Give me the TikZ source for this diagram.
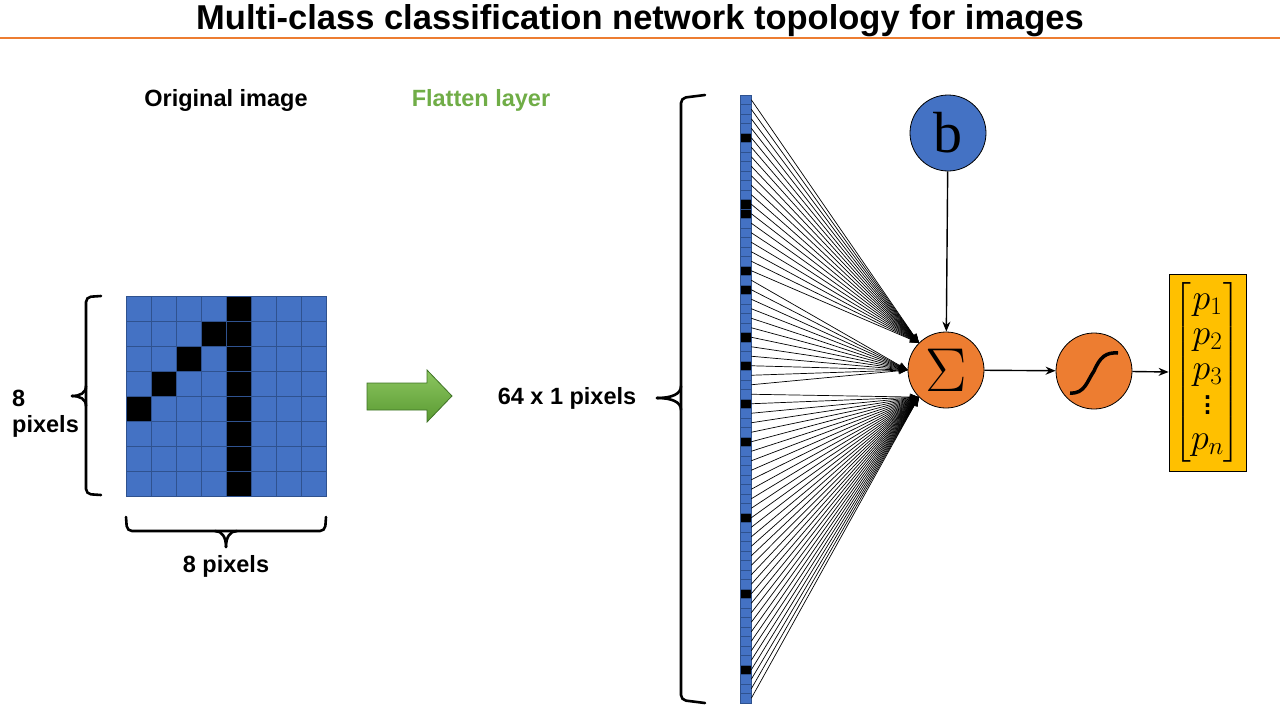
\RequirePackage{fix-cm}
\documentclass[tikz,border=0pt]{standalone}
\usepackage{amsmath}
\usepackage{fontspec}
\setmainfont{Liberation Sans}
\newfontfamily\biasfont{Liberation Serif}
\usetikzlibrary{arrows.meta}
\definecolor{pixblue}{HTML}{4472C4}
\definecolor{pixedge}{HTML}{2F528F}
\definecolor{accorange}{HTML}{ED7D31}
\definecolor{outyellow}{HTML}{FFC000}
\definecolor{flatgreen}{HTML}{70AD47}
\definecolor{arrowtop}{HTML}{8CC660}
\definecolor{arrowbot}{HTML}{5A9A32}
\definecolor{arrowedge}{HTML}{3F7326}
\newcommand\tallvdots{\vcenter{\baselineskip=7.5pt\lineskiplimit=0pt\hbox{.}\hbox{.}\hbox{.}}}

\begin{document}
\begin{tikzpicture}[x=1pt, y=-1pt,
        pix/.style={draw=pixedge, fill=pixblue, line width=0.8pt, inner sep=0pt, minimum size=25pt},
        colpix/.style={draw=pixedge, fill=pixblue, line width=0.6pt, inner sep=0pt, minimum width=11pt, minimum height=9.5pt},
        lbl/.style={font=\fontsize{23.5}{28}\selectfont\bfseries},
        neuron/.style={circle, draw=black, line width=0.8pt, minimum size=76pt, inner sep=0pt},
        fan/.style={line width=0.7pt, -{Stealth[length=9pt,width=7pt]}},
        link/.style={line width=1.4pt, -{Stealth[length=10pt,width=8pt]}},
        bracket/.style={line width=2.6pt, line cap=round, rounded corners=5pt}]
        \useasboundingbox (0,0) rectangle (1280,720);
        % Title
        \node [font=\fontsize{34.5}{40}\selectfont\bfseries] (title) at (640,21) {Multi-class classification network topology for images};
        \draw [accorange, line width=2pt] (0,38) -- (1280,38);
        % Labels
        \node [lbl] (origlbl) at (226,100) {Original image};
        \node [lbl, text=flatgreen] (flatlbl) at (481,100) {Flatten layer};
        \node [lbl] (colsize) at (567,398) {64 x 1 pixels};
        \node [lbl] (gridw) at (226,566) {8 pixels};
        \node [font=\fontsize{23.5}{26}\selectfont\bfseries, align=left, anchor=west, inner sep=0pt] (gridh) at (12,414) {8\\pixels};
        % Original image, 8 x 8
        \foreach \r in {0,...,7} {
            \foreach \c in {0,...,7} {
                \pgfmathtruncatemacro\isblack{(\c==4)||(\r+\c==4)}
                \ifnum\isblack=1
                    \node [pix, fill=black] (g\r\c) at (138.5+25*\c, 308.5+25*\r) {};
                \else
                    \node [pix] (g\r\c) at (138.5+25*\c, 308.5+25*\r) {};
                \fi
            }
        }
        % Braces
        \draw [bracket] (101,296) -- (86,297) -- (86,494) -- (101,495);
        \draw [bracket, rounded corners=0pt] (86,386) .. controls (86,393) and (80,396) .. (72,396);
        \draw [bracket, rounded corners=0pt] (86,406) .. controls (86,399) and (80,396) .. (72,396);
        \draw [bracket] (126,517) -- (127,531) -- (325,531) -- (326,517);
        \draw [bracket, rounded corners=0pt] (215,531) .. controls (222,531) and (226,537) .. (226,547);
        \draw [bracket, rounded corners=0pt] (237,531) .. controls (230,531) and (226,537) .. (226,547);
        \draw [bracket] (705,95) -- (681,98) -- (681,700) -- (705,703);
        \draw [bracket, rounded corners=0pt] (681,386) .. controls (681,394) and (672,398) .. (657,398);
        \draw [bracket, rounded corners=0pt] (681,410) .. controls (681,402) and (672,398) .. (657,398);
        % Flatten arrow
        \draw [draw=arrowedge, top color=arrowtop, bottom color=arrowbot, line width=0.8pt]
            (367,383) -- (427,383) -- (427,370) -- (452,396) -- (427,422) -- (427,410) -- (367,410) -- cycle;
        % Neurons
        \node [neuron, fill=pixblue] (bias) at (948,133) {\biasfont\fontsize{58}{58}\selectfont b};
        \node [neuron, fill=accorange] (sum) at (946,370) {\fontsize{62}{62}\selectfont$\Sigma$};
        \node [neuron, fill=accorange] (sig) at (1094,371) {};
        \draw [line width=3.5pt] ([shift={(-24,22)}]sig.center) .. controls ([shift={(-9,23)}]sig.center) and ([shift={(-7,10)}]sig.center) .. (sig.center)
            .. controls ([shift={(6,-14)}]sig.center) and ([shift={(12,-19)}]sig.center) .. ([shift={(24,-18)}]sig.center);
        \node [draw=black, line width=0.8pt, fill=outyellow, minimum width=77pt, minimum height=197pt, inner sep=0pt] (out) at (1207.5,372.5)
            {\fontsize{36}{35}\selectfont$\begin{bmatrix}p_1\\p_2\\p_3\\\tallvdots\\p_n\end{bmatrix}$};
        % Flattened column and its links
        \foreach \i in {0,...,63} {
            \pgfmathtruncatemacro\r{int(\i/8)}
            \pgfmathtruncatemacro\c{mod(\i,8)}
            \pgfmathtruncatemacro\isblack{(\c==4)||(\r+\c==4)}
            \pgfmathtruncatemacro\ang{\i<19 ? 135 : (\i<31 ? 180 : 225)}
            \ifnum\isblack=1
                \node [colpix, fill=black] (col\i) at (745.5, 99.75+9.5*\i) {};
            \else
                \node [colpix] (col\i) at (745.5, 99.75+9.5*\i) {};
            \fi
            \draw [fan] (col\i.east) -- (sum.\ang);
        }
        \draw [link] (bias) -- (sum);
        \draw [link] (sum) -- (sig);
        \draw [link] (sig) -- (out);
    \end{tikzpicture}
\end{document}
